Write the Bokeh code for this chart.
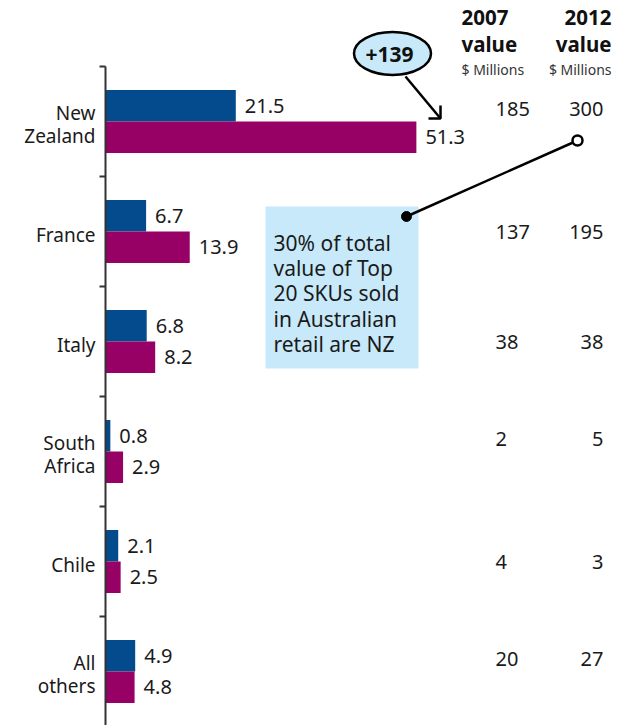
from bokeh.plotting import figure
from bokeh.models import Range1d, FixedTicker, ColumnDataSource
from bokeh.core.properties import value
from bokeh.embed import file_html
from bokeh.resources import INLINE

# ---- data ----
categories = ["New\nZealand", "France", "Italy", "South\nAfrica", "Chile", "All\nothers"]
share_2007 = [21.5, 6.7, 6.8, 0.8, 2.1, 4.9]
share_2012 = [51.3, 13.9, 8.2, 2.9, 2.5, 4.8]
value_2007 = ["185", "137", "38", "2", "4", "20"]
value_2012 = ["300", "195", "38", "5", "3", "27"]
col_headers = ["2007\nvalue", "2012\nvalue"]
col_units = "$ Millions"
growth_label = "+139"
note_text = "30% of total\nvalue of Top\n20 SKUs sold\nin Australian\nretail are NZ"

BLUE = "#034b8d"
PURPLE = "#970065"
TXT = "#1a1a1a"
LIGHT = "#c7e9f9"
FONT = "Noto Sans"

n = len(categories)
centers = [n - i - 0.5 for i in range(n)]
bar_h = 0.287

W, H = 628, 725
left_border = 20
x0_px = 105      # page x of value 0
px_x = 6.06      # px per unit
px_y = 110.0     # px per category
top_px = 66      # page y of top of axis


def gx(px):
    return (px - x0_px) / px_x


def gy(py):
    return n - (py - top_px) / px_y


p = figure(width=W, height=H, output_backend="svg", toolbar_location=None,
           x_range=Range1d(-(x0_px - left_border) / px_x, (W - x0_px) / px_x),
           y_range=Range1d(n - (H - top_px) / px_y, n + top_px / px_y),
           min_border_left=left_border, min_border_right=0,
           min_border_top=0, min_border_bottom=0)
p.outline_line_color = None
p.xgrid.visible = False
p.ygrid.visible = False
p.xaxis.visible = False
p.background_fill_color = "white"

ax = p.yaxis[0]
ax.fixed_location = 0
# boundaries between categories drawn as (label-less) minor ticks
ax.ticker = FixedTicker(ticks=[], minor_ticks=list(range(n + 1)))
ax.bounds = (0, n)
ax.major_tick_line_color = None
ax.minor_tick_out = 6
ax.minor_tick_in = 0
ax.minor_tick_line_width = 2
ax.minor_tick_line_color = "#333333"
ax.axis_line_width = 2
ax.axis_line_color = "#333333"

src = ColumnDataSource(dict(
    cat=categories,
    yc=centers,
    yb=[c + bar_h / 2 for c in centers],
    yp=[c - bar_h / 2 for c in centers],
    v07=share_2007, v12=share_2012,
    t07=[str(v) for v in share_2007], t12=[str(v) for v in share_2012],
    c07=value_2007, c12=value_2012,
    ycol=[c + (0.11 if "\n" in cat else 0.0) for c, cat in zip(centers, categories)],
))

p.hbar(y="yb", right="v07", left=0, height=bar_h, source=src, fill_color=BLUE, line_color=None)
p.hbar(y="yp", right="v12", left=0, height=bar_h, source=src, fill_color=PURPLE, line_color=None)

p.text(x="v07", y="yb", text="t07", source=src, x_offset=9, text_baseline="middle",
       text_font=value(FONT), text_font_size="20px", text_color=TXT)
p.text(x="v12", y="yp", text="t12", source=src, x_offset=9, text_baseline="middle",
       text_font=value(FONT), text_font_size="20px", text_color=TXT)

# category labels left of axis
p.text(x=0, y="yc", text="cat", source=src, x_offset=-10, y_offset=3,
       text_align="right", text_baseline="middle",
       text_font=value(FONT), text_font_size="19px", text_color=TXT,
       text_line_height=0.9)

# value columns
p.text(x=gx(495), y="ycol", text="c07", source=src, text_align="left", text_baseline="middle",
       text_font=value(FONT), text_font_size="20px", text_color=TXT)
p.text(x=gx(603), y="ycol", text="c12", source=src, text_align="right", text_baseline="middle",
       text_font=value(FONT), text_font_size="20px", text_color=TXT)

# headers
hy = gy(30)
p.text(x=[gx(461)], y=[hy], text=[col_headers[0]], text_align="left", text_baseline="middle",
       text_font=value(FONT), text_font_size="20.5px", text_font_style="bold",
       text_color="#111111", text_line_height=0.93)
p.text(x=[gx(611)], y=[hy], text=[col_headers[1]], text_align="right", text_baseline="middle",
       text_font=value(FONT), text_font_size="20.5px", text_font_style="bold",
       text_color="#111111", text_line_height=0.93)
uy = gy(68.5)
p.text(x=[gx(461)], y=[uy], text=[col_units], text_align="left", text_baseline="middle",
       text_font=value(FONT), text_font_size="14px", text_color="#333333")
p.text(x=[gx(611)], y=[uy], text=[col_units], text_align="right", text_baseline="middle",
       text_font=value(FONT), text_font_size="14px", text_color="#333333")

# +139 bubble and arrow
p.line(x=[gx(405), gx(440)], y=[gy(76), gy(118)], line_color="black", line_width=2.5)
p.line(x=[gx(428), gx(440), gx(440)], y=[gy(118), gy(118), gy(105)],
       line_color="black", line_width=2.5)
p.ellipse(x=[gx(392)], y=[gy(53)], width=77, height=43, width_units="screen", height_units="screen",
          fill_color=LIGHT, line_color="black", line_width=2.5)
p.text(x=[gx(389)], y=[gy(54)], text=[growth_label], text_align="center", text_baseline="middle",
       text_font=value(FONT), text_font_size="21px", text_font_style="bold", text_color="#111111")

# note box with connector
p.quad(left=[gx(265)], right=[gx(418)], top=[gy(206)], bottom=[gy(368)],
       fill_color=LIGHT, line_color=None)
p.text(x=[gx(273)], y=[gy(293)], text=[note_text], text_align="left", text_baseline="middle",
       text_font=value(FONT), text_font_size="21px", text_color=TXT, text_line_height=0.9)
p.line(x=[gx(577), gx(406)], y=[gy(140), gy(216)], line_color="black", line_width=2.5)
p.scatter(x=[gx(406)], y=[gy(216)], size=10, fill_color="black", line_color="black")
p.scatter(x=[gx(577)], y=[gy(140)], size=10, fill_color="white", line_color="black", line_width=2.5)

open("out.html", "w").write(file_html(p, INLINE))
